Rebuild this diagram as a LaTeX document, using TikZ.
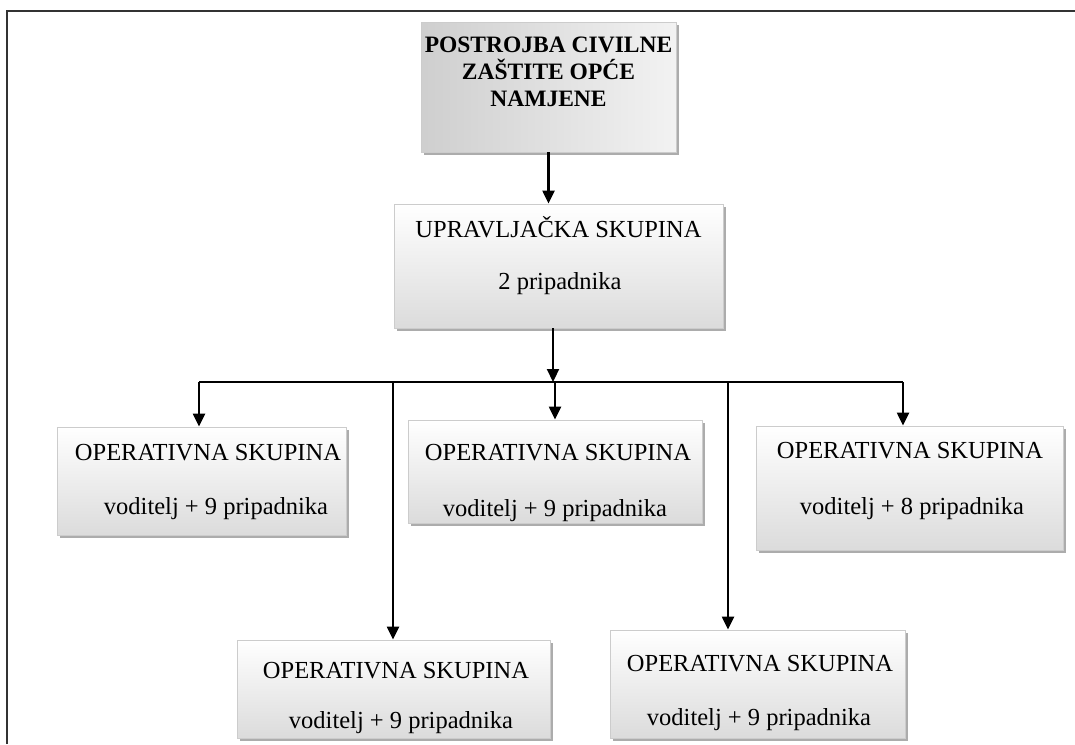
\documentclass[tikz,border=0pt]{standalone}
\usepackage{fontspec}
\setmainfont{Liberation Serif}
\usetikzlibrary{arrows.meta,shadows}

\tikzset{
  box/.style={draw=gray!40, line width=0.8pt, inner sep=0pt,
    top color=white, bottom color=gray!28,
    drop shadow={shadow xshift=3pt, shadow yshift=-3pt, fill=gray!65, opacity=1}},
  headbox/.style={box, top color=gray!30, bottom color=gray!30,
    left color=gray!38, right color=gray!10},
  lbl/.style={font=\fontsize{24.5}{28}\selectfont, inner sep=0pt, anchor=base},
  arr/.style={-{Triangle[width=12pt,length=13pt]}, line width=2.2pt},
  link/.style={line width=2.2pt}
}

\begin{document}
\begin{tikzpicture}[x=1pt,y=-1pt]
  \useasboundingbox (0,0) rectangle (1075,744);
  \draw[line width=2pt, black!80] (7,744) -- (7,11) -- (1075,11);

  % boxes
  \node[headbox, minimum width=255pt, minimum height=130pt] (top) at (548.5,87) {};
  \node[box, minimum width=329pt, minimum height=124pt] (upr) at (558.5,266) {};
  \node[box, minimum width=289pt, minimum height=108pt] (op1) at (201.5,481) {};
  \node[box, minimum width=294pt, minimum height=103pt] (op2) at (555,471.5) {};
  \node[box, minimum width=307pt, minimum height=124pt] (op3) at (909.5,488) {};
  \node[box, minimum width=313pt, minimum height=98pt] (op4) at (393.5,689) {};
  \node[box, minimum width=295pt, minimum height=108pt] (op5) at (757.5,684) {};

  % texts
  \node[lbl, font=\fontsize{23.5}{27}\selectfont\bfseries, align=center, anchor=north]
    (topt) at (548.5,37) {POSTROJBA CIVILNE\\ZAŠTITE OPĆE\\NAMJENE};
  \node[lbl] (upr1) at (558.5,237) {UPRAVLJAČKA SKUPINA};
  \node[lbl] (upr2) at (560,289) {2 pripadnika};
  \node[lbl] (op1a) at (208,460) {OPERATIVNA SKUPINA};
  \node[lbl] (op1b) at (216,514) {voditelj + 9 pripadnika};
  \node[lbl] (op2a) at (558,460) {OPERATIVNA SKUPINA};
  \node[lbl] (op2b) at (555,516) {voditelj + 9 pripadnika};
  \node[lbl] (op3a) at (910,458) {OPERATIVNA SKUPINA};
  \node[lbl] (op3b) at (912,514) {voditelj + 8 pripadnika};
  \node[lbl] (op4a) at (396,678) {OPERATIVNA SKUPINA};
  \node[lbl] (op4b) at (401,728) {voditelj + 9 pripadnika};
  \node[lbl] (op5a) at (760,671) {OPERATIVNA SKUPINA};
  \node[lbl] (op5b) at (759,725) {voditelj + 9 pripadnika};

  % connectors
  \coordinate (bar) at (553,382);
  \coordinate (b1) at (199,382);
  \coordinate (b4) at (393,382);
  \coordinate (b5) at (728,382);
  \coordinate (b3) at (903,382);
  \draw[arr] (top.south) -- (top.south |- upr.north);
  \draw[arr] (bar |- upr.south) -- (bar);
  \draw[link] (b1) -- (b3);
  \draw[arr] (b1) -- (b1 |- op1.north);
  \draw[arr] (bar) -- (bar -| op2.north) -- (op2.north);
  \draw[arr] (b3) -- (b3 |- op3.north);
  \draw[arr] (b4) -- (b4 |- op4.north);
  \draw[arr] (b5) -- (b5 |- op5.north);
\end{tikzpicture}
\end{document}
